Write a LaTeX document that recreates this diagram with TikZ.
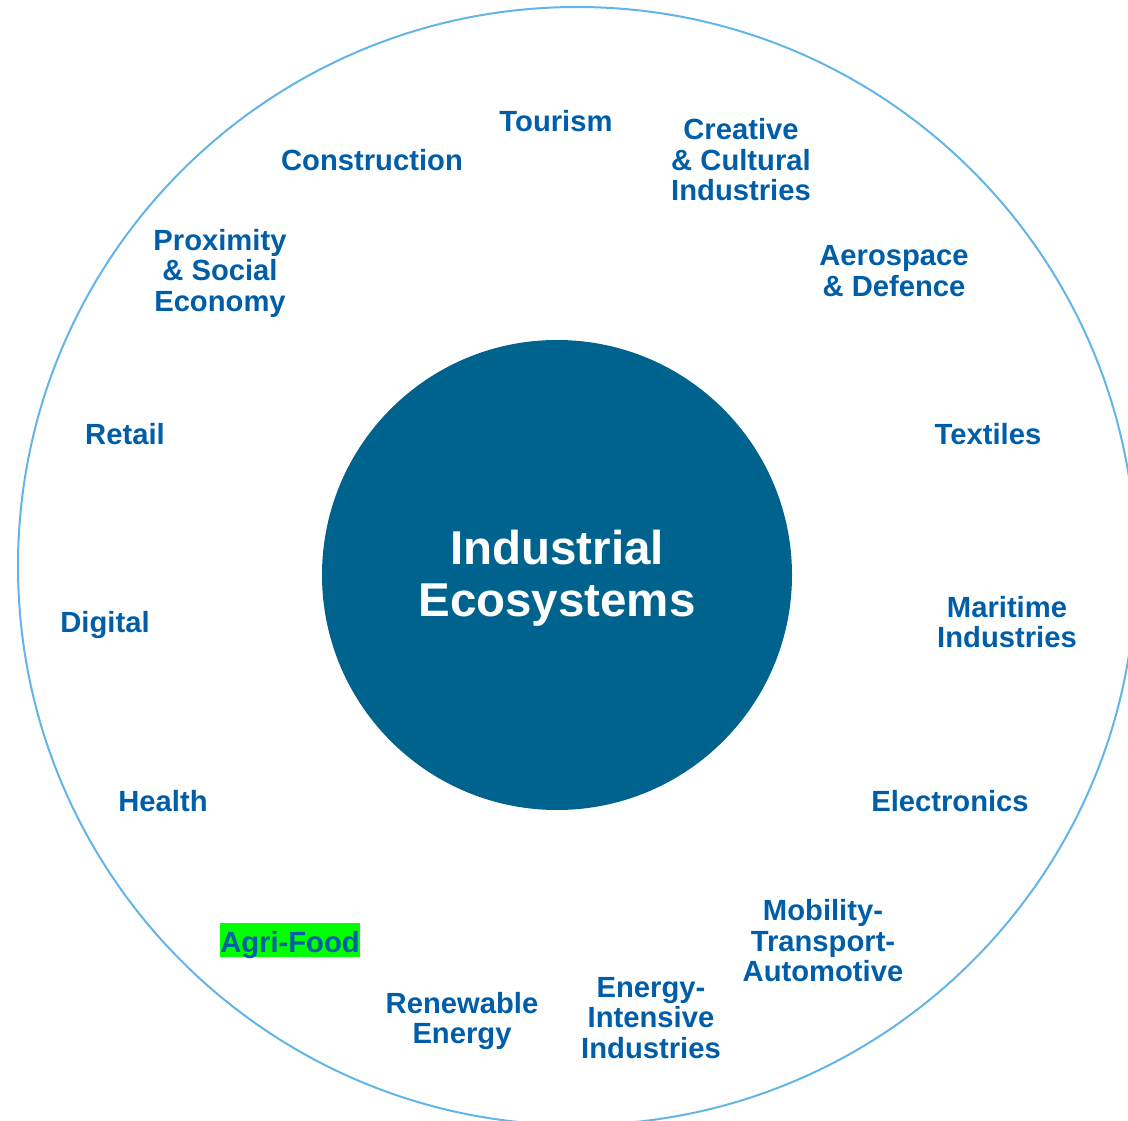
\documentclass[tikz,border=0pt]{standalone}
\usepackage{fontspec}
\setmainfont{Liberation Sans}
\usepackage{tikz}
\usetikzlibrary{shapes}

\definecolor{ecoblue}{RGB}{0,94,168}
\definecolor{hubblue}{RGB}{0,99,142}
\definecolor{ringblue}{RGB}{99,181,232}
\definecolor{marker}{RGB}{0,255,0}

\begin{document}
\begin{tikzpicture}[x=1pt, y=-1pt,
      ring/.style={draw=ringblue, line width=2pt, circle, minimum size=1118pt, inner sep=0pt},
      hub/.style={fill=hubblue, circle, minimum size=470pt, inner sep=0pt},
      hubtext/.style={text=white, align=center, font=\bfseries\fontsize{47.5}{52}\selectfont, inner sep=0pt},
      sector/.style={text=ecoblue, align=center, font=\bfseries\fontsize{29.2}{30.5}\selectfont, inner sep=0pt}
    ]
    \useasboundingbox (0,0) rectangle (1128,1121);

    \node[ring] (ring) at (577,566) {};
    \node[hub] (hub) at (557,575) {};
    \node[hubtext] (title) at ([yshift=-3pt]hub.center) {Industrial\\Ecosystems};

    \node[sector] (tourism) at (556,121) {Tourism};
    \node[sector] (construction) at (372,160) {Construction};
    \node[sector] (creative) at (741,160) {Creative\\\& Cultural\\Industries};
    \node[sector] (proximity) at (220,273) {Proximity\\\& Social\\Economy};
    \node[sector] (aerospace) at (894,271) {Aerospace\\\& Defence};
    \node[sector] (retail) at (125,434) {Retail};
    \node[sector] (textiles) at (988,434) {Textiles};
    \node[sector] (digital) at (105,625) {Digital};
    \node[sector] (maritime) at (1007,622) {Maritime\\Industries};
    \node[sector] (health) at (163,801) {Health};
    \node[sector] (electronics) at (950,801) {Electronics};
    \node[sector, fill=marker, inner xsep=0pt, inner ysep=2pt, text height=27pt, text depth=3pt] (agrifood) at (290,940) {Agri-Food};
    \node[sector] (renewable) at (462,1021) {Renewable\\Energy};
    \node[sector] (energy) at (651,1018) {Energy-\\Intensive\\Industries};
    \node[sector] (mobility) at (823,941) {Mobility-\\Transport-\\Automotive};
  \end{tikzpicture}
\end{document}
